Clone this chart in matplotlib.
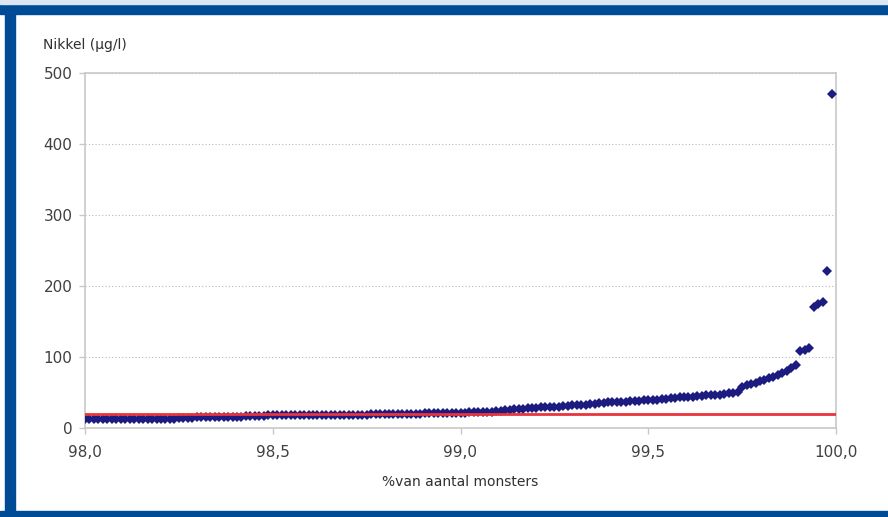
import numpy as np
import matplotlib
matplotlib.use("Agg")
import matplotlib.pyplot as plt
from matplotlib.patches import Rectangle

# gemeten nikkelgehalten, hoogste 2% van de monsters (gesorteerd)
nikkel = [12] * 9 + [13] * 12 + \
    [14, 14, 14, 14, 15, 15, 15, 15, 15, 15] + \
    [16, 16, 16, 16, 16, 17, 17, 17, 17, 17] + \
    [18] * 8 + [19] * 7 + \
    [19] * 8 + [20] * 12 + [21] * 10 + \
    [22, 22, 22, 23, 23, 23, 24, 24] + \
    [26, 26, 27, 27, 27, 28, 28, 28, 29, 29, 30, 30, 30, 31, 31, 32, 32, 33, 33, 34, 34] + \
    [35, 35, 36, 36, 36, 37, 37, 38, 38, 38, 39, 39] + \
    [40, 40, 41, 41, 42, 42, 43, 43, 44, 44, 45, 45, 46, 46, 47, 47, 48, 49, 50, 51] + \
    [58, 60, 62, 64, 66, 68, 70, 72, 74, 77, 80, 84, 89] + \
    [108, 110, 112, 170, 174, 177, 221, 471]

# percentiel van elk monster (rang / aantal)
n_top = len(nikkel)
percentiel = 98.0 + np.arange(n_top) * (2.0 / n_top)

# norm-lijn
norm_x = [98.0, 100.0]
norm_y = [20, 20]

xticks = [98.0, 98.5, 99.0, 99.5, 100.0]
xtick_labels = ['98,0', '98,5', '99,0', '99,5', '100,0']
yticks = [0, 100, 200, 300, 400, 500]

W, H = 888, 517
fig = plt.figure(figsize=(W / 100, H / 100), dpi=100)
fig.patch.set_facecolor('white')

# blauwe rand
blauw = '#004b96'
fig.patches.append(Rectangle((0, 1 - 14 / H), 1, 10 / H, transform=fig.transFigure,
                             color=blauw, zorder=0))
fig.patches.append(Rectangle((5 / W, 0), 10 / W, 1 - 4 / H, transform=fig.transFigure,
                             color=blauw, zorder=0))
fig.patches.append(Rectangle((0, 0), 1, 6 / H, transform=fig.transFigure,
                             color=blauw, zorder=0))
fig.patches.append(Rectangle((0, 1 - 4 / H), 1, 4 / H, transform=fig.transFigure,
                             color='#dce6f2', zorder=0))

ax = fig.add_axes([85 / W, 1 - 428 / H, 751 / W, 355 / H])
ax.set_facecolor('white')

ax.plot(percentiel, nikkel, linestyle='none', marker='D', markersize=5.2,
        color='#1c1c80', markeredgewidth=0, zorder=3)
ax.plot(norm_x, norm_y, color='#e8343a', linewidth=2, zorder=4)

ax.set_xlim(98.0, 100.0)
ax.set_ylim(0, 500)
ax.set_xticks(xticks)
ax.set_xticklabels(xtick_labels)
ax.set_yticks(yticks)

ax.yaxis.grid(True, linestyle=(0, (1, 2)), color='#b8b8b8', linewidth=0.8)
ax.set_axisbelow(True)
for s in ax.spines.values():
    s.set_color('#c8c8c8')
    s.set_linewidth(1.2)

ax.tick_params(axis='both', colors='#c8c8c8', labelcolor='#404040', labelsize=11,
               length=4, width=1)
ax.tick_params(axis='x', pad=8)
ax.tick_params(axis='y', pad=5)

fig.text(43 / W, 1 - 45 / H, 'Nikkel (µg/l)', fontsize=10, color='#303030',
         ha='left', va='center')
fig.text(460 / W, 1 - 482 / H, '%van aantal monsters', fontsize=10, color='#303030',
         ha='center', va='center')

fig.savefig('out.png', dpi=100)
